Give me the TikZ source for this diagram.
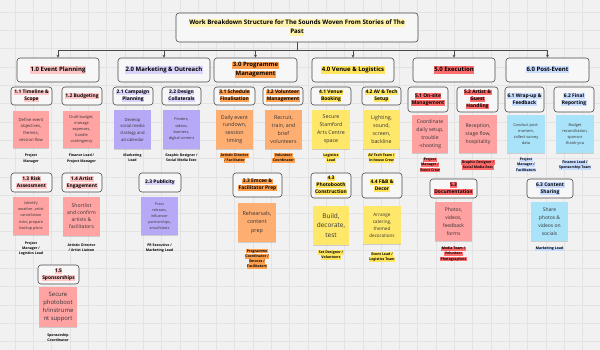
\documentclass[tikz,border=0pt]{standalone}
\usepackage{fontspec}
\setmainfont{Open Sans}
\usetikzlibrary{arrows.meta,shadows}
\definecolor{bgc}{HTML}{F1F1F1}
\definecolor{gridc}{HTML}{E3E3E3}
\definecolor{edgec}{HTML}{4A4A4A}
\definecolor{txt}{HTML}{333333}
\definecolor{boxfill}{HTML}{F7F7F7}
\definecolor{hT}{HTML}{FFF4AE}
\definecolor{h1}{HTML}{FFC7C7}
\definecolor{h2}{HTML}{DAD4FB}
\definecolor{h3}{HTML}{FFA04F}
\definecolor{h4}{HTML}{FFE45E}
\definecolor{h5}{HTML}{FF6B6B}
\definecolor{h6}{HTML}{C8DCFF}
\definecolor{n1}{HTML}{FFA3A3}
\definecolor{n2}{HTML}{B7A9F6}
\definecolor{n3}{HTML}{FFAE72}
\definecolor{n4}{HTML}{FFE76A}
\definecolor{n5}{HTML}{FFA1A1}
\definecolor{n6}{HTML}{A9E3FA}
\setlength{\fboxsep}{0.5pt}
\newcommand{\hl}[2]{\colorbox{#1}{\rule[-0.26em]{0pt}{1.0em}#2}}
\begin{document}
\begin{tikzpicture}[x=1pt,y=-1pt,
  lone/.style={draw=edgec, line width=0.6pt, rounded corners=3pt, fill=boxfill, inner sep=0pt, align=center, minimum height=24pt, font=\fontsize{6}{9}\selectfont\bfseries},
  titlebox/.style={lone, minimum width=242pt, minimum height=29pt, font=\fontsize{6.2}{9}\selectfont\bfseries},
  ltwo/.style={lone, minimum height=18pt, font=\fontsize{4.9}{7}\selectfont\bfseries},
  note/.style={inner sep=0pt, align=center, text=txt, minimum width=37pt, minimum height=38pt,
     drop shadow={shadow xshift=0.3pt, shadow yshift=-0.8pt, opacity=0.15, fill=black}},
  lab/.style={inner sep=0pt, align=center, text=black, font=\fontsize{3.5}{5.2}\selectfont\bfseries},
  conn/.style={draw=edgec, line width=0.6pt, -{Stealth[length=3pt,width=3pt]}}
]
\fill[bgc] (0,0) rectangle (600,350);
\useasboundingbox (0,0) rectangle (600,350);
\foreach \i in {0,...,32} \draw[gridc, line width=0.3pt] ({15+18.3*\i},0) -- ({15+18.3*\i},350);
\foreach \i in {0,...,19} \draw[gridc, line width=0.3pt] (0,{12+18.3*\i}) -- (600,{12+18.3*\i});

% title
\node[titlebox] (t) at (297,27.5) {\hl{hT}{Work Breakdown Structure for The Sounds Woven From Stories of The}\\\hl{hT}{Past}};

% level 1
\node[lone, minimum width=82pt] (e1) at (58,70) {\hl{h1}{1.0 Event Planning}};
\node[lone, minimum width=92pt] (e2) at (164,70) {\hl{h2}{2.0 Marketing \& Outreach}};
\node[lone, minimum width=83pt] (e3) at (255.5,70) {\hl{h3}{3.0 Programme}\\\hl{h3}{Management}};
\node[lone, minimum width=82pt] (e4) at (353,70) {\hl{h4}{4.0 Venue \& Logistics}};
\node[lone, minimum width=82pt] (e5) at (454,70) {\hl{h5}{5.0 Execution}};
\node[lone, minimum width=83pt] (e6) at (547.5,70) {\hl{h6}{6.0 Post-Event}};

\coordinate (bus) at (297,50);
\foreach \e in {e1,e2,e3,e4,e5,e6} \draw[conn] (t.south) -- (t.south |- bus) -| (\e.north);

% level 2 - first row
\node[ltwo, minimum width=41pt] (a11) at (31.5,96) {\hl{h1}{1.1 Timeline \&}\\\hl{h1}{Scope}};
\node[ltwo, minimum width=40pt] (a12) at (82,96) {\hl{h1}{1.2 Budgeting}};
\node[ltwo, minimum width=40pt] (a21) at (133,96) {\hl{h2}{2.1 Campaign}\\\hl{h2}{Planning}};
\node[ltwo, minimum width=39pt] (a22) at (181.5,96) {\hl{h2}{2.2 Design}\\\hl{h2}{Collaterals}};
\node[ltwo, minimum width=41pt] (a31) at (234.5,96) {\hl{h3}{3.1 Schedule}\\\hl{h3}{Finalisation}};
\node[ltwo, minimum width=40pt] (a32) at (283,96) {\hl{h3}{3.2 Volunteer}\\\hl{h3}{Management}};
\node[ltwo, minimum width=40pt] (a41) at (331,96) {\hl{h4}{4.1 Venue}\\\hl{h4}{Booking}};
\node[ltwo, minimum width=39pt] (a42) at (381.5,96) {\hl{h4}{4.2 AV \& Tech}\\\hl{h4}{Setup}};
\node[ltwo, minimum width=40pt, minimum height=25pt] (a51) at (428,99.5) {\hl{h5}{5.1 On-site}\\\hl{h5}{Management}};
\node[ltwo, minimum width=41pt, minimum height=25pt] (a52) at (477.5,99.5) {\hl{h5}{5.2 Artist \&}\\\hl{h5}{Guest}\\\hl{h5}{Handling}};
\node[ltwo, minimum width=39pt, minimum height=25pt] (a61) at (524.5,99.5) {\hl{h6}{6.1 Wrap-up \&}\\\hl{h6}{Feedback}};
\node[ltwo, minimum width=40pt, minimum height=25pt] (a62) at (574,99.5) {\hl{h6}{6.2 Final}\\\hl{h6}{Reporting}};

% level 2 - lower rows
\node[ltwo, minimum width=41pt, minimum height=19pt] (a13) at (31.5,182.5) {\hl{h1}{1.3 Risk}\\\hl{h1}{Assessment}};
\node[ltwo, minimum width=40pt, minimum height=19pt] (a14) at (82,182.5) {\hl{h1}{1.4 Artist}\\\hl{h1}{Engagement}};
\node[ltwo, minimum width=41pt, minimum height=19pt] (a15) at (58.5,274.5) {\hl{h1}{1.5}\\\hl{h1}{Sponsorships}};
\node[ltwo, minimum width=42pt, minimum height=19pt] (a23) at (160,182.5) {\hl{h2}{2.3 Publicity}};
\node[ltwo, minimum width=49pt, minimum height=24pt] (a33) at (257.5,185) {\hl{h3}{3.3 Emcee \&}\\\hl{h3}{Facilitator Prep}};
\node[ltwo, minimum width=40pt, minimum height=25pt] (a43) at (331,185.5) {\hl{h4}{4.3}\\\hl{h4}{Photobooth}\\\hl{h4}{Construction}};
\node[ltwo, minimum width=40pt, minimum height=25pt] (a44) at (382,185.5) {\hl{h4}{4.4 F\&B \&}\\\hl{h4}{Decor}};
\node[ltwo, minimum width=47pt, minimum height=19pt] (a53) at (453.5,188.5) {\hl{h5}{5.3}\\\hl{h5}{Documentation}};
\node[ltwo, minimum width=46pt, minimum height=19pt] (a63) at (550,188.5) {\hl{h6}{6.3 Content}\\\hl{h6}{Sharing}};

% notes
\node[note, fill=n1, minimum width=36pt, minimum height=37pt, font=\fontsize{4.2}{6.7}\selectfont] (n11) at (31,129.5) {Define event\\objectives,\\themes,\\session flow};
\node[note, fill=n1, minimum height=37pt, font=\fontsize{3.9}{6.1}\selectfont] (n12) at (81.5,129.5) {Draft budget,\\manage\\expenses,\\handle\\contingency};
\node[note, fill=n1, minimum width=36pt, font=\fontsize{3.8}{6.2}\selectfont] (n13) at (31,216) {Identify\\weather, artist\\cancellation\\risks; prepare\\backup plans};
\node[note, fill=n1, minimum height=39pt, font=\fontsize{5.1}{7}\selectfont] (n14) at (81.5,216.5) {Shortlist\\and confirm\\artists \&\\facilitators};
\node[note, fill=n1, minimum width=38pt, minimum height=40pt, font=\fontsize{5.9}{8}\selectfont] (n15) at (58,307) {Secure\\photoboot\\h/instrume\\nt support};
\node[note, fill=n2, minimum height=39pt, font=\fontsize{4.2}{6.7}\selectfont] (n21) at (132.5,129.5) {Develop\\social media\\strategy and\\ad calendar};
\node[note, fill=n2, minimum height=39pt, font=\fontsize{3.8}{6.4}\selectfont] (n22) at (181.5,129.5) {Posters,\\videos,\\banners,\\digital content};
\node[note, fill=n2, font=\fontsize{3.6}{6}\selectfont] (n23) at (159.5,216) {Press\\releases,\\influencer\\partnerships,\\email blasts};
\node[note, fill=n3, minimum height=39pt, font=\fontsize{5.3}{7.8}\selectfont] (n31) at (234.5,129.5) {Daily event\\rundown,\\session\\timing};
\node[note, fill=n3, minimum height=39pt, font=\fontsize{5.3}{7.8}\selectfont] (n32) at (283.5,129.5) {Recruit,\\train, and\\brief\\volunteers};
\node[note, fill=n3, minimum width=38pt, minimum height=39pt, font=\fontsize{5.4}{8.3}\selectfont] (n33) at (257,222.5) {Rehearsals,\\content\\prep};
\node[note, fill=n4, minimum width=38pt, minimum height=39pt, font=\fontsize{5.3}{7.9}\selectfont] (n41) at (331,129.5) {Secure\\Stamford\\Arts Centre\\space};
\node[note, fill=n4, minimum height=39pt, font=\fontsize{5.3}{7.9}\selectfont] (n42) at (381.5,129.5) {Lighting,\\sound,\\screen,\\backline};
\node[note, fill=n4, minimum width=36pt, minimum height=39pt, font=\fontsize{6.5}{9.4}\selectfont] (n43) at (331,225.5) {Build,\\decorate,\\test};
\node[note, fill=n4, minimum width=38pt, font=\fontsize{4.6}{7}\selectfont] (n44) at (382,225) {Arrange\\catering,\\themed\\decorations};
\node[note, fill=n5, minimum width=36pt, font=\fontsize{5.1}{8}\selectfont] (n51) at (430,134) {Coordinate\\daily setup,\\trouble\\-shooting};
\node[note, fill=n5, minimum width=38pt, font=\fontsize{5.1}{7.8}\selectfont] (n52) at (478,134) {Reception,\\stage flow,\\hospitality};
\node[note, fill=n5, minimum height=39pt, font=\fontsize{5}{7.9}\selectfont] (n53) at (453.5,221.5) {Photos,\\videos,\\feedback\\forms};
\node[note, fill=n6, minimum width=38pt, font=\fontsize{3.9}{6}\selectfont] (n61) at (526,134) {Conduct post-\\mortem,\\collect survey\\data};
\node[note, fill=n6, minimum width=38pt, font=\fontsize{3.9}{6}\selectfont] (n62) at (575,134) {Budget\\reconciliation,\\sponsor\\thank-you};
\node[note, fill=n6, minimum height=39pt, font=\fontsize{5}{7.9}\selectfont] (n63) at (549.5,221.5) {Share\\photos \&\\videos on\\socials};

% labels
\node[lab] (l11) at (31,158.5) {Project\\Manager};
\node[lab] (l12) at (81.5,158.5) {Finance Lead /\\Project Manager};
\node[lab] (l13) at (31,248.5) {Project\\Manager /\\Logistics Lead};
\node[lab] (l14) at (81.5,248) {Artistic Director\\/ Artist Liaison};
\node[lab] (l15) at (58,338) {Sponsorship\\Coordinator};
\node[lab] (l21) at (132.5,158) {Marketing\\Lead};
\node[lab] (l22) at (181.5,158) {Graphic Designer /\\Social Media Exec};
\node[lab] (l23) at (159.5,248) {PR Executive /\\Marketing Lead};
\node[lab] (l31) at (234.5,158) {\hl{h3}{Artistic Director}\\\hl{h3}{/ Facilitator}};
\node[lab] (l32) at (283.5,158) {\hl{h3}{Volunteer}\\\hl{h3}{Coordinator}};
\node[lab] (l33) at (257,259) {\hl{h3}{Programme}\\\hl{h3}{Coordinator /}\\\hl{h3}{Emcees /}\\\hl{h3}{Facilitators}};
\node[lab] (l41) at (331,158) {\hl{h4}{Logistics}\\\hl{h4}{Lead}};
\node[lab] (l42) at (381.5,158) {\hl{h4}{AV Tech Team /}\\\hl{h4}{In-house Crew}};
\node[lab] (l43) at (331,255) {\hl{h4}{Set Designer /}\\\hl{h4}{Volunteers}};
\node[lab] (l44) at (382,257) {\hl{h4}{Event Lead /}\\\hl{h4}{Logistics Team}};
\node[lab] (l51) at (430,165) {\hl{h5}{Project}\\\hl{h5}{Manager /}\\\hl{h5}{Event Crew}};
\node[lab] (l52) at (478,165) {\hl{h5}{Graphic Designer /}\\\hl{h5}{Social Media Exec}};
\node[lab] (l53) at (453.5,254) {\hl{h5}{Media Team /}\\\hl{h5}{Volunteer}\\\hl{h5}{Photographers}};
\node[lab] (l61) at (526,165) {\hl{h6}{Project}\\\hl{h6}{Manager /}\\\hl{h6}{Facilitators}};
\node[lab] (l62) at (575,165) {\hl{h6}{Finance Lead /}\\\hl{h6}{Sponsorship Team}};
\node[lab] (l63) at (549.5,249) {\hl{h6}{Marketing Lead}};
\end{tikzpicture}
\end{document}
